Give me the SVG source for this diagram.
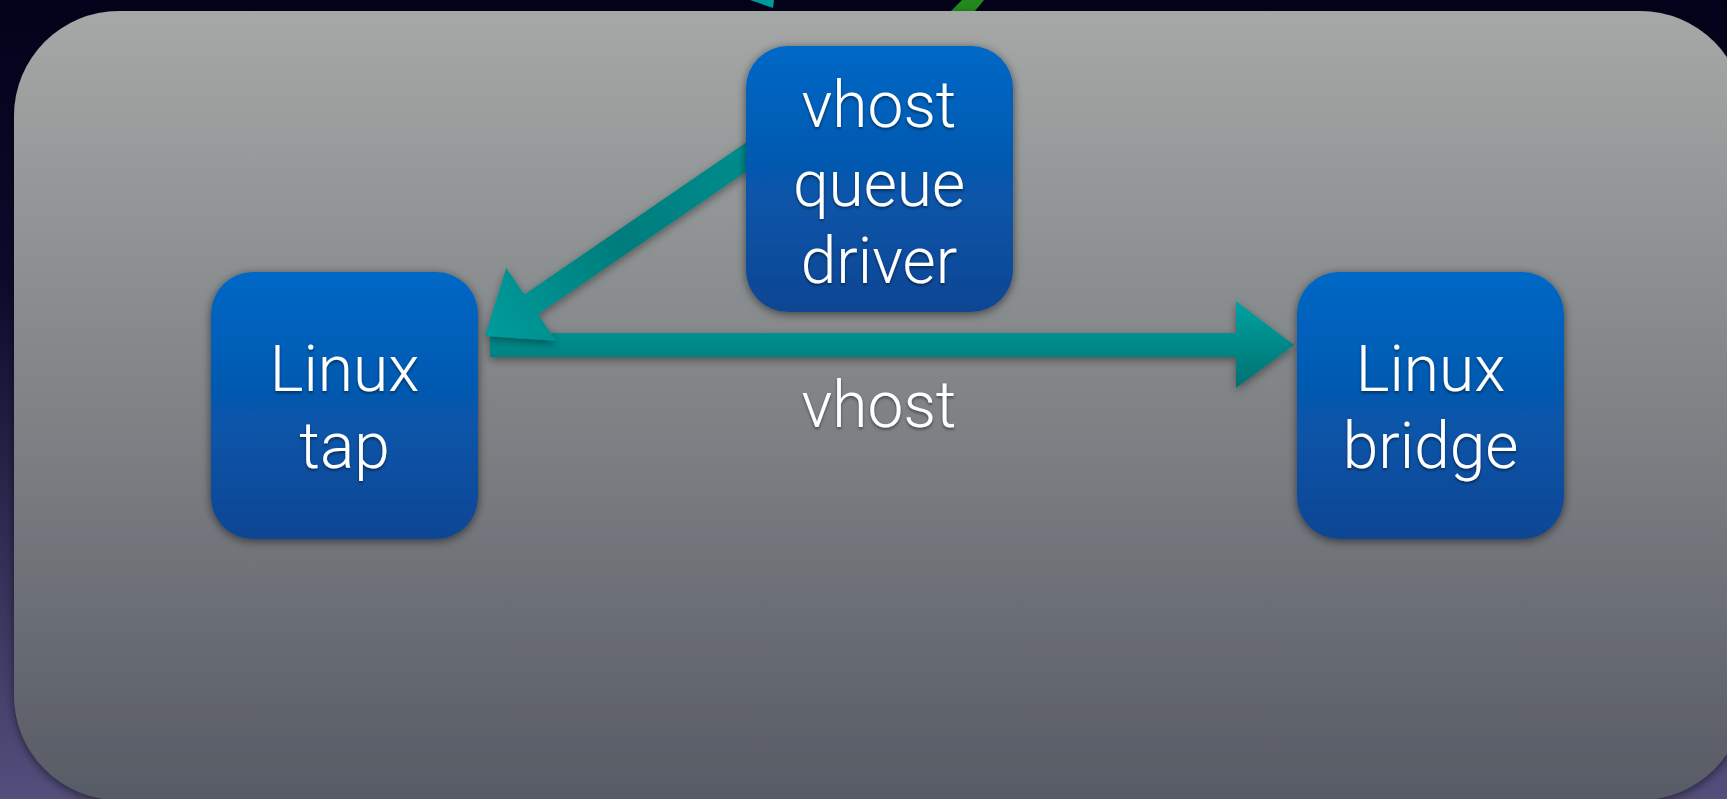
<svg xmlns="http://www.w3.org/2000/svg" width="1727" height="799" viewBox="0 0 1727 799">
  <defs>
    <linearGradient id="bg" x1="0" y1="0" x2="0" y2="1">
      <stop offset="0" stop-color="#04021a"/>
      <stop offset="0.35" stop-color="#0c0a2c"/>
      <stop offset="1" stop-color="#544e7c"/>
    </linearGradient>
    <linearGradient id="panel" x1="0" y1="0" x2="0" y2="1">
      <stop offset="0" stop-color="#a5a8a6"/>
      <stop offset="0.5" stop-color="#808386"/>
      <stop offset="1" stop-color="#575b65"/>
    </linearGradient>
    <linearGradient id="node" x1="0" y1="0" x2="0" y2="1">
      <stop offset="0" stop-color="#0268c6"/>
      <stop offset="1" stop-color="#0b4693"/>
    </linearGradient>
    <linearGradient id="hArrow" x1="0" y1="0" x2="0" y2="1">
      <stop offset="0" stop-color="#00a2a2"/>
      <stop offset="1" stop-color="#007070"/>
    </linearGradient>
    <linearGradient id="dArrow" gradientUnits="userSpaceOnUse" x1="485" y1="336" x2="757" y2="150">
      <stop offset="0" stop-color="#009c9c"/>
      <stop offset="0.5" stop-color="#007c7c"/>
      <stop offset="1" stop-color="#008e8e"/>
    </linearGradient>
    <filter id="panelShadow" x="-5%" y="-5%" width="110%" height="110%">
      <feDropShadow dx="0" dy="3" stdDeviation="4" flood-color="#000" flood-opacity="0.5"/>
    </filter>
    <filter id="nodeShadow" x="-20%" y="-20%" width="140%" height="140%">
      <feDropShadow dx="0" dy="2" stdDeviation="5" flood-color="#000" flood-opacity="0.55"/>
    </filter>
    <filter id="arrowShadow" x="-20%" y="-40%" width="140%" height="180%">
      <feDropShadow dx="0" dy="3" stdDeviation="4" flood-color="#000" flood-opacity="0.4"/>
    </filter>
    <filter id="textShadow" x="-10%" y="-20%" width="120%" height="140%">
      <feDropShadow dx="0" dy="2" stdDeviation="1.5" flood-color="#000" flood-opacity="0.45"/>
    </filter>
  </defs>
  <style>
    .lbl { font-family: Roboto, "Liberation Sans", sans-serif; font-weight: 300; font-size: 64px; fill: #ffffff; text-anchor: middle; filter: url(#textShadow); }
    .box { fill: url(#node); filter: url(#nodeShadow); }
  </style>

  <rect x="0" y="0" width="1727" height="799" fill="url(#bg)"/>

  <g id="offpanel">
    <polygon points="750,0 774,0 773,8" fill="#009a9a"/>
    <polygon points="962,0 984,0 975,11 951,11" fill="#228a1c"/>
  </g>

  <rect id="panel" x="14" y="11" width="1731" height="789" rx="105" ry="105" fill="url(#panel)" filter="url(#panelShadow)"/>

  <g id="connectors">
    <g id="vhost-arrow" filter="url(#arrowShadow)">
      <polygon points="490,333 1236,333 1236,301 1294,345 1236,388 1236,357 490,357" fill="url(#hArrow)"/>
    </g>
    <g id="queue-to-tap" filter="url(#arrowShadow)">
      <polygon points="485,336 506.3,268.1 524.4,294.5 750.5,139.6 764.1,159.4 538,314.3 556.1,340.7" fill="url(#dArrow)"/>
    </g>
    <text class="lbl" x="879" y="427">vhost</text>
  </g>

  <g id="vhost-queue-driver">
    <rect class="box" x="746" y="46" width="267" height="266" rx="42" ry="42"/>
    <text class="lbl" x="879" y="127">vhost</text>
    <text class="lbl" x="879" y="206">queue</text>
    <text class="lbl" x="879" y="283">driver</text>
  </g>

  <g id="linux-tap">
    <rect class="box" x="211" y="272" width="267" height="267" rx="42" ry="42"/>
    <text class="lbl" x="344.5" y="391">Linux</text>
    <text class="lbl" x="344.5" y="468">tap</text>
  </g>

  <g id="linux-bridge">
    <rect class="box" x="1297" y="272" width="267" height="267" rx="42" ry="42"/>
    <text class="lbl" x="1430.5" y="391">Linux</text>
    <text class="lbl" x="1430.5" y="468">bridge</text>
  </g>
</svg>
